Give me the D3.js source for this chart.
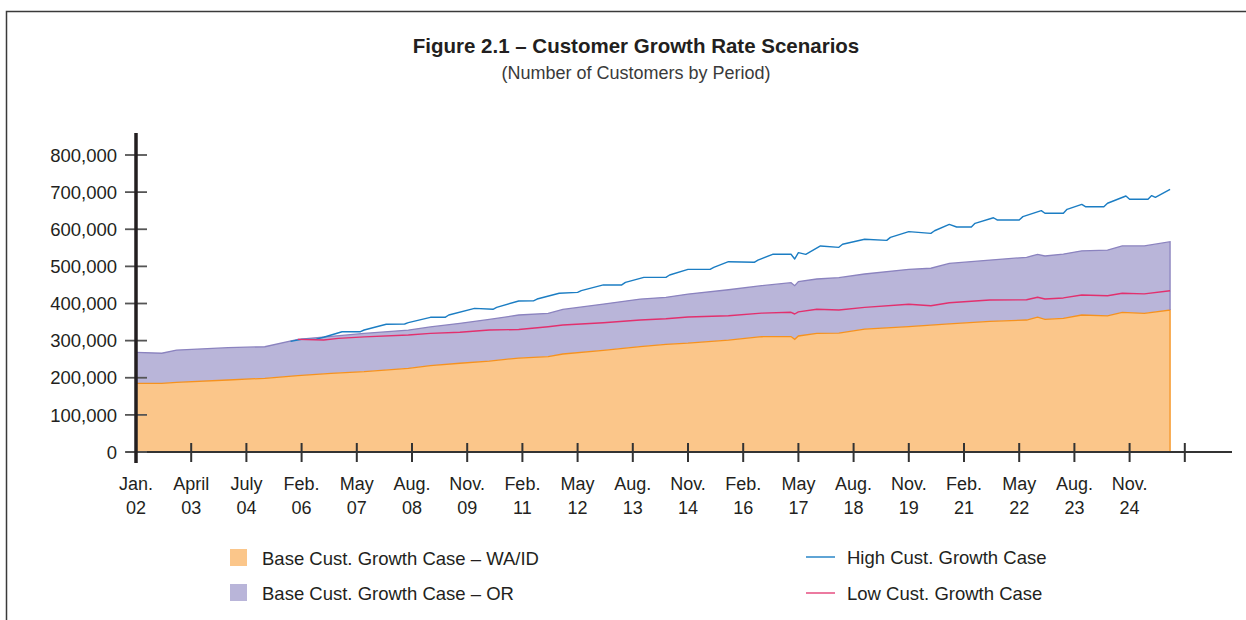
<!DOCTYPE html>
<html>
<head>
<meta charset="utf-8">
<script src="https://cdn.jsdelivr.net/npm/d3@7"></script>
<style>
  body { margin: 0; background: #fff; }
  svg { display: block; font-family: "Liberation Sans", Arial, sans-serif; }
</style>
</head>
<body>
<div id="chart-area"></div>
<script>
// months counted from Jan. 02 (15 months between labelled ticks)
const months = [0, 7, 11, 25, 35, 44, 53, 62, 74, 80, 88, 96, 104, 112, 116, 127, 137, 144, 150, 161,
  170, 178, 179, 180, 185, 191, 198, 210, 216, 221, 232, 242, 245, 247, 252, 257, 264, 268, 274, 281];

// Base Cust. Growth Case - WA/ID
const waid = [185000, 185000, 187500, 194000, 198500, 205500, 212000, 216500, 225500, 232500,
  239000, 245000, 253000, 257000, 264000, 274000, 284000, 290000, 293000, 301500,
  310500, 311000, 303500, 312500, 319500, 320000, 331000, 337500, 341500, 345000,
  352000, 355500, 363000, 357500, 360000, 369000, 366500, 376000, 373500, 382500];

// Base Cust. Growth Case - OR (stacked on WA/ID)
const oregon = [83500, 81000, 87000, 87000, 85000, 98000, 99500, 103000, 103000, 104500,
  107500, 112000, 116000, 116500, 120000, 124500, 128000, 126500, 132500, 135500,
  137500, 145000, 144500, 146500, 146500, 149500, 148500, 154500, 153500, 163000,
  165000, 169000, 169500, 170500, 173000, 173000, 177500, 179000, 181500, 184000];

// High Cust. Growth Case
const highMonths = [42, 45, 49, 51, 56, 61, 62, 68, 73, 74, 80, 84, 85, 92, 97, 98, 104, 108, 109, 115,
  120, 121, 127, 132, 133, 138, 144, 145, 150, 156, 157, 161, 168, 169, 173, 178, 179, 180, 182, 186,
  191, 192, 198, 204, 205, 210, 216, 217, 221, 223, 227, 228, 233, 234, 240, 241, 246, 247, 252, 253,
  257, 258, 263, 264, 269, 270, 275, 276, 277, 281];
const highValues = [298000, 303500, 304000, 309000, 324000, 324000, 328600, 344000, 344800, 348300,
  362800, 362800, 369000, 387000, 384400, 389700, 406700, 407000, 412000, 427500,
  430000, 434500, 450000, 450000, 457000, 470500, 470500, 476800, 492000, 492000,
  497500, 512600, 511000, 517000, 532500, 532500, 520000, 537000, 532500, 555000,
  551300, 559500, 573000, 570000, 578000, 593500, 589000, 596000, 613000, 606000,
  606000, 616000, 631000, 625000, 625000, 634000, 650000, 643000, 643000, 653700,
  667000, 660700, 660700, 670000, 689600, 680700, 680700, 690600, 686000, 707600];

// Low Cust. Growth Case
const lowMonths = [44, 51, 55, 62, 74, 80, 88, 96, 104, 112, 116, 127, 137, 144, 150, 161, 170, 178, 179, 180,
  185, 191, 198, 210, 216, 221, 232, 242, 245, 247, 252, 257, 264, 268, 274, 281];
const lowValues = [303500, 301700, 306000, 310000, 315000, 319500, 322500, 328500, 330000, 337500,
  342000, 348300, 355500, 359000, 363600, 367000, 374000, 376300, 371700, 377500,
  384400, 382500, 389700, 397800, 394000, 402000, 409400, 410000, 416700, 412000,
  415000, 423000, 421000, 427500, 426000, 434500];

// x axis ticks
const tickPos = [0, 15, 30, 45, 60, 75, 90, 105, 120, 135, 150, 165, 180, 195, 210, 225, 240, 255, 270, 285];
const tickMonthLabels = ["Jan.", "April", "July", "Feb.", "May", "Aug.", "Nov.", "Feb.", "May", "Aug.",
  "Nov.", "Feb.", "May", "Aug.", "Nov.", "Feb.", "May", "Aug.", "Nov.", ""];
const tickYearLabels = ["02", "03", "04", "06", "07", "08", "09", "11", "12", "13",
  "14", "16", "17", "18", "19", "21", "22", "23", "24", ""];

const yTicks = [0, 100000, 200000, 300000, 400000, 500000, 600000, 700000, 800000];

const WIDTH = 1246, HEIGHT = 620;
const TEXT = "#231f20";
const FILLS = ["#fbc68a", "#b9b5d9"];
const EDGES = ["#f6921e", "#8b83bf"];
const HIGH_COLOR = "#1b7dc3";
const LOW_COLOR = "#e2306e";

const svg = d3.select("#chart-area").append("svg")
  .attr("width", WIDTH)
  .attr("height", HEIGHT);

// frame
svg.append("path")
  .attr("d", "M6.5,620 V11.5 H1246")
  .attr("fill", "none")
  .attr("stroke", "#3a3a3a")
  .attr("stroke-width", 1.5);

// titles
svg.append("text")
  .attr("x", 636).attr("y", 53)
  .attr("text-anchor", "middle")
  .attr("font-size", 20.5).attr("font-weight", "bold")
  .attr("fill", TEXT)
  .text("Figure 2.1 – Customer Growth Rate Scenarios");

svg.append("text")
  .attr("x", 636).attr("y", 79)
  .attr("text-anchor", "middle")
  .attr("font-size", 18)
  .attr("fill", "#3a3a3a")
  .text("(Number of Customers by Period)");

const x = d3.scaleLinear().domain([0, 285]).range([136, 1184.8]);
const y = d3.scaleLinear().domain([0, 800000]).range([452, 155]);

// stacked areas
const rows = months.map((m, i) => ({ m: m, waid: waid[i], or: oregon[i] }));
const stacked = d3.stack().keys(["waid", "or"])(rows);

const area = d3.area()
  .x(d => x(d.data.m))
  .y0(d => y(d[0]))
  .y1(d => y(d[1]));

const g = svg.append("g");

g.selectAll("path.layer")
  .data(stacked)
  .enter().append("path")
  .attr("class", "layer")
  .attr("fill", (d, i) => FILLS[i])
  .attr("d", area);

// top edge of each layer, closed down the right side
g.selectAll("path.edge")
  .data(stacked)
  .enter().append("path")
  .attr("class", "edge")
  .attr("fill", "none")
  .attr("stroke", (d, i) => EDGES[i])
  .attr("stroke-width", 1.3)
  .attr("d", layer => {
    const pts = layer.map(d => [x(d.data.m), y(d[1])]);
    const last = layer[layer.length - 1];
    pts.push([x(last.data.m), y(last[0])]);
    return d3.line()(pts);
  });

// scenario lines
const line = d3.line()
  .x(d => x(d[0]))
  .y(d => y(d[1]));

g.append("path")
  .attr("fill", "none")
  .attr("stroke", HIGH_COLOR)
  .attr("stroke-width", 1.4)
  .attr("stroke-linejoin", "round")
  .attr("d", line(highMonths.map((m, i) => [m, highValues[i]])));

g.append("path")
  .attr("fill", "none")
  .attr("stroke", LOW_COLOR)
  .attr("stroke-width", 1.4)
  .attr("stroke-linejoin", "round")
  .attr("d", line(lowMonths.map((m, i) => [m, lowValues[i]])));

// x axis
const xAxis = svg.append("g");
xAxis.append("line")
  .attr("x1", 126).attr("x2", 1232)
  .attr("y1", y(0)).attr("y2", y(0))
  .attr("stroke", "#333").attr("stroke-width", 2);

xAxis.selectAll("line.tick")
  .data(tickPos)
  .enter().append("line")
  .attr("class", "tick")
  .attr("x1", d => x(d)).attr("x2", d => x(d))
  .attr("y1", y(0) - 9).attr("y2", y(0) + 10)
  .attr("stroke", "#333").attr("stroke-width", 2);

xAxis.selectAll("text.mon")
  .data(tickPos)
  .enter().append("text")
  .attr("class", "mon")
  .attr("x", d => x(d)).attr("y", 489.5)
  .attr("text-anchor", "middle")
  .attr("font-size", 18).attr("fill", TEXT)
  .text((d, i) => tickMonthLabels[i]);

xAxis.selectAll("text.yr")
  .data(tickPos)
  .enter().append("text")
  .attr("class", "yr")
  .attr("x", d => x(d)).attr("y", 513.5)
  .attr("text-anchor", "middle")
  .attr("font-size", 18).attr("fill", TEXT)
  .text((d, i) => tickYearLabels[i]);

// y axis
const yAxis = svg.append("g");
yAxis.selectAll("line.tick")
  .data(yTicks)
  .enter().append("line")
  .attr("class", "tick")
  .attr("x1", 125).attr("x2", 147)
  .attr("y1", d => y(d)).attr("y2", d => y(d))
  .attr("stroke", "#555").attr("stroke-width", 1.8);

yAxis.append("line")
  .attr("x1", 136).attr("x2", 136)
  .attr("y1", 133).attr("y2", 463)
  .attr("stroke", TEXT).attr("stroke-width", 3.5);

yAxis.selectAll("text")
  .data(yTicks)
  .enter().append("text")
  .attr("x", 117).attr("y", d => y(d))
  .attr("dy", "0.36em")
  .attr("text-anchor", "end")
  .attr("font-size", 18.5).attr("fill", TEXT)
  .text(d => d3.format(",")(d));

// legend
const boxes = [
  { label: "Base Cust. Growth Case – WA/ID", color: FILLS[0], y: 558 },
  { label: "Base Cust. Growth Case – OR", color: FILLS[1], y: 593 }
];
const lines = [
  { label: "High Cust. Growth Case", color: HIGH_COLOR, w: 1.4, y: 557 },
  { label: "Low Cust. Growth Case", color: "#ec7aa0", w: 2, y: 593 }
];

const legend = svg.append("g");
boxes.forEach(b => {
  legend.append("rect")
    .attr("x", 230).attr("y", b.y - 9)
    .attr("width", 17).attr("height", 17)
    .attr("fill", b.color);
  legend.append("text")
    .attr("x", 262).attr("y", b.y).attr("dy", "0.36em")
    .attr("font-size", 18.5).attr("fill", TEXT)
    .text(b.label);
});
lines.forEach(l => {
  legend.append("line")
    .attr("x1", 806).attr("x2", 835)
    .attr("y1", l.y).attr("y2", l.y)
    .attr("stroke", l.color).attr("stroke-width", l.w);
  legend.append("text")
    .attr("x", 847).attr("y", l.y).attr("dy", "0.36em")
    .attr("font-size", 18.5).attr("fill", TEXT)
    .text(l.label);
});
</script>
</body>
</html>
